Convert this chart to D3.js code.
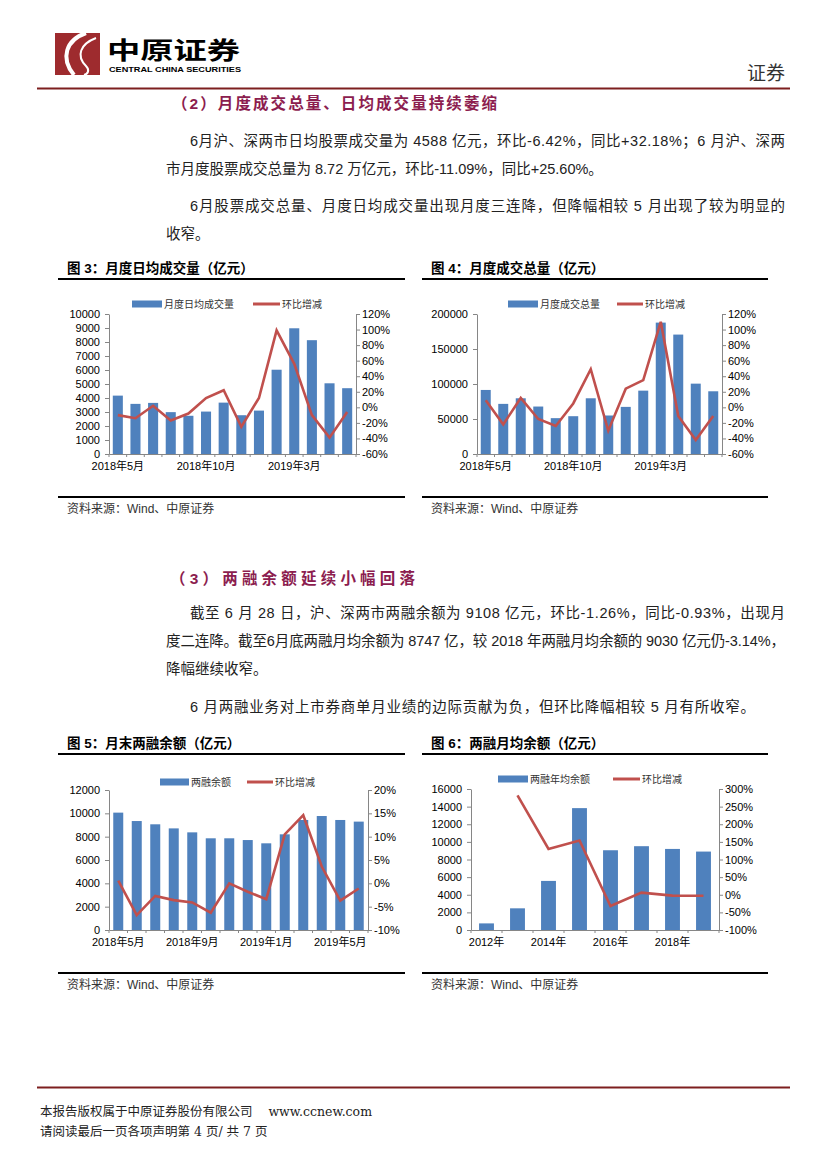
<!DOCTYPE html>
<html><head><meta charset="utf-8">
<script src="https://cdn.jsdelivr.net/npm/d3@7"></script>
<style>
body{margin:0;background:#fff}
svg text{font-family:"Liberation Sans","Noto Sans CJK SC",sans-serif}
</style></head><body>
<svg id="page" width="827" height="1169"></svg>
<script>
// data
var months = ['2018年5月','2018年6月','2018年7月','2018年8月','2018年9月','2018年10月','2018年11月',
  '2018年12月','2019年1月','2019年2月','2019年3月','2019年4月','2019年5月','2019年6月'];
var dailyAvgVol = [4170,3580,3650,2990,2730,3030,3670,2770,3100,6020,8980,8130,5050,4700];
var dailyAvgMoM = [-10,-14,2,-17,-8,12,22,-25,12,99,56,-10,-39,-6];
var monthTotalVol = [91500,71600,79600,67800,51200,54000,79600,55000,67300,90500,187700,170600,100500,89600];
var monthTotalMoM = [9,-22,12,-15,-24,5,49,-30,24,35,110,-11,-42,-11];
var marginBal = [10060,9340,9060,8710,8370,7860,7860,7710,7430,8200,9430,9770,9430,9290];
var marginMoM = [0.6,-6.8,-2.7,-3.6,-4.1,-6.3,0,-1.8,-3.4,10.5,14.6,3.6,-3.7,-1.1];
var years = ['2012年','2013年','2014年','2015年','2016年','2017年','2018年','2019年'];
var marginYearAvg = [750,2460,5570,13830,9050,9510,9200,8900];
var marginYearMoM = [null,282,130,154,-32,6,-2.4,-3];

var BLUE = '#4f81bd', RED = '#c0504d', AXIS = '#868686';
var svg = d3.select('#page');

// ---- page header ----
svg.append('rect').attr('x',55).attr('y',33).attr('width',45).attr('height',42).attr('fill','#9e2b2e');
svg.append('path').attr('d','M86 33 C66 40 60 58 74 75').attr('fill','none').attr('stroke','#fff').attr('stroke-width',4);
svg.append('path').attr('d','M96 38 C80 44 76 56 86 66 C90 70 88 74 84 75').attr('fill','none').attr('stroke','#fff').attr('stroke-width',2);
svg.append('text').attr('x',107).attr('y',59).attr('font-size',24).attr('font-weight',700)
  .attr('textLength',133).attr('lengthAdjust','spacingAndGlyphs').text('中原证券');
svg.append('text').attr('x',109).attr('y',71.5).attr('font-size',8).attr('font-weight','bold')
  .attr('textLength',132).attr('lengthAdjust','spacingAndGlyphs').text('CENTRAL CHINA SECURITIES');
svg.append('text').attr('x',785).attr('y',80).attr('text-anchor','end').attr('font-size',19).attr('fill','#333').text('证券');
svg.append('line').attr('x1',37).attr('x2',790).attr('y1',88.5).attr('y2',88.5).attr('stroke','#7d1f1f').attr('stroke-width',2);

// ---- body text ----
function para(x, y, str, right) {
  var t = svg.append('text').attr('x',x).attr('y',y).attr('font-size',14.5).attr('fill','#222').text(str);
  if (right) t.attr('textLength', right - x).attr('lengthAdjust','spacing');
}
function heading(x, y, str, w) {
  svg.append('text').attr('x',x).attr('y',y).attr('font-size',15.5).attr('font-weight','bold')
    .attr('fill','#8c1d4f').attr('textLength',w).attr('lengthAdjust','spacing').text(str);
}
heading(172, 109, '（2）月度成交总量、日均成交量持续萎缩', 325);
para(190, 146, '6月沪、深两市日均股票成交量为 4588 亿元，环比-6.42%，同比+32.18%；6 月沪、深两', 785);
para(166, 174, '市月度股票成交总量为 8.72 万亿元，环比-11.09%，同比+25.60%。');
para(190, 211, '6月股票成交总量、月度日均成交量出现月度三连降，但降幅相较 5 月出现了较为明显的', 785);
para(166, 239, '收窄。');

heading(170, 584, '（3）两融余额延续小幅回落', 245);
para(190, 618, '截至 6 月 28 日，沪、深两市两融余额为 9108 亿元，环比-1.26%，同比-0.93%，出现月', 785);
para(166, 646, '度二连降。截至6月底两融月均余额为 8747 亿，较 2018 年两融月均余额的 9030 亿元仍-3.14%，', 785);
para(166, 674, '降幅继续收窄。');
para(190, 712, '6 月两融业务对上市券商单月业绩的边际贡献为负，但环比降幅相较 5 月有所收窄。', 755);

// ---- combo chart ----
function drawChart(c) {
  var g = svg.append('g');
  g.append('text').attr('x',c.tx).attr('y',c.ty).attr('font-size',13.5).attr('font-weight','bold').text(c.title);
  g.append('line').attr('x1',c.rx0).attr('x2',c.rx1).attr('y1',c.ty+6).attr('y2',c.ty+6).attr('stroke','#000').attr('stroke-width',2);

  var n = c.cats.length;
  var x = d3.scaleBand().domain(d3.range(n)).range([c.px0,c.px1]).paddingInner(c.pad).paddingOuter(c.pad/2);
  var yL = d3.scaleLinear().domain([0,c.lMax]).range([c.py1,c.py0]);
  var yR = d3.scaleLinear().domain([c.rMin,c.rMax]).range([c.py1,c.py0]);

  g.selectAll('rect.bar').data(c.bars).enter().append('rect').attr('class','bar')
    .attr('x',function(d,i){return x(i);}).attr('width',x.bandwidth())
    .attr('y',function(d){return yL(d);}).attr('height',function(d){return c.py1-yL(d);})
    .attr('fill',BLUE);

  var line = d3.line().defined(function(d){return d!=null;})
    .x(function(d,i){return x(i)+x.bandwidth()/2;}).y(function(d){return yR(d);});
  g.append('path').datum(c.line).attr('d',line).attr('fill','none').attr('stroke',RED).attr('stroke-width',2.6);

  var axL = g.append('g').attr('transform','translate('+c.px0+',0)')
    .call(d3.axisLeft(yL).tickValues(d3.range(0,c.lMax+1,c.lStep)).tickSize(4).tickPadding(5).tickSizeOuter(0)
      .tickFormat(d3.format('d')));
  var axR = g.append('g').attr('transform','translate('+c.px1+',0)')
    .call(d3.axisRight(yR).tickValues(d3.range(c.rMin,c.rMax+1,c.rStep)).tickSize(4).tickPadding(2).tickSizeOuter(0)
      .tickFormat(function(d){return d+'%';}));
  var axB = g.append('g').attr('transform','translate(0,'+c.py1+')')
    .call(d3.axisBottom(x).tickValues(d3.range(0,n,c.every)).tickSize(0).tickPadding(8).tickSizeOuter(0)
      .tickFormat(function(i){return c.cats[i];}));
  [axL,axR,axB].forEach(function(a){
    a.selectAll('path,line').attr('stroke',AXIS);
    a.selectAll('text').attr('font-size',11).attr('fill','#000').style('font-family','"Liberation Sans","Noto Sans CJK SC",sans-serif');
  });
  // small ticks between categories on the bottom axis
  g.selectAll('line.ct').data(d3.range(n+1)).enter().append('line').attr('class','ct')
    .attr('x1',function(i){return c.px0+i*x.step();}).attr('x2',function(i){return c.px0+i*x.step();})
    .attr('y1',c.py1).attr('y2',c.py1+3).attr('stroke',AXIS);

  // legend
  g.append('rect').attr('x',c.legBar[0]).attr('y',c.legY-3.5).attr('width',c.legBar[1]-c.legBar[0]).attr('height',7).attr('fill',BLUE);
  g.append('text').attr('x',c.legBar[1]+2).attr('y',c.legY+3.5).attr('font-size',10).attr('fill','#333').text(c.legBar[2]);
  g.append('line').attr('x1',c.legLine[0]).attr('x2',c.legLine[1]).attr('y1',c.legY).attr('y2',c.legY).attr('stroke',RED).attr('stroke-width',3);
  g.append('text').attr('x',c.legLine[1]+2).attr('y',c.legY+3.5).attr('font-size',10).attr('fill','#333').text('环比增减');

  // source
  g.append('line').attr('x1',c.rx0).attr('x2',c.rx1).attr('y1',c.srcY).attr('y2',c.srcY).attr('stroke','#000').attr('stroke-width',2);
  g.append('text').attr('x',c.tx).attr('y',c.srcY+16).attr('font-size',12).attr('fill','#333').text('资料来源：Wind、中原证券');
}

drawChart({title:'图 3：月度日均成交量（亿元）', tx:67, ty:273, rx0:58, rx1:405,
  px0:109, px1:356, py0:314, py1:454, cats:months, bars:dailyAvgVol, line:dailyAvgMoM,
  lMax:10000, lStep:1000, rMin:-60, rMax:120, rStep:20, every:5, pad:0.43,
  legY:304, legBar:[132,162,'月度日均成交量'], legLine:[253,280], srcY:497});
drawChart({title:'图 4：月度成交总量（亿元）', tx:431, ty:273, rx0:422, rx1:768,
  px0:477, px1:722, py0:314, py1:454, cats:months, bars:monthTotalVol, line:monthTotalMoM,
  lMax:200000, lStep:50000, rMin:-60, rMax:120, rStep:20, every:5, pad:0.43,
  legY:304, legBar:[508,538,'月度成交总量'], legLine:[617,643], srcY:497});
drawChart({title:'图 5：月末两融余额（亿元）', tx:67, ty:748, rx0:58, rx1:405,
  px0:109, px1:368, py0:790, py1:930, cats:months, bars:marginBal, line:marginMoM,
  lMax:12000, lStep:2000, rMin:-10, rMax:20, rStep:5, every:4, pad:0.46,
  legY:782, legBar:[160,189,'两融余额'], legLine:[247,273], srcY:973});
drawChart({title:'图 6：两融月均余额（亿元）', tx:431, ty:748, rx0:422, rx1:768,
  px0:471, px1:719, py0:789, py1:930, cats:years, bars:marginYearAvg, line:marginYearMoM,
  lMax:16000, lStep:2000, rMin:-100, rMax:300, rStep:50, every:2, pad:0.52,
  legY:779, legBar:[498,528,'两融年均余额'], legLine:[613,640], srcY:973});

// ---- footer ----
svg.append('line').attr('x1',37).attr('x2',790).attr('y1',1087.5).attr('y2',1087.5).attr('stroke','#7d1f1f').attr('stroke-width',2);
svg.append('text').attr('x',40).attr('y',1116).attr('font-size',12.5).attr('fill','#222').style('white-space','pre')
  .style('font-family','"DejaVu Serif","Noto Sans CJK SC",serif').text('本报告版权属于中原证券股份有限公司    www.ccnew.com');
svg.append('text').attr('x',40).attr('y',1136).attr('font-size',12.5).attr('fill','#222').style('white-space','pre')
  .style('font-family','"DejaVu Serif","Noto Sans CJK SC",serif').text('请阅读最后一页各项声明第 4 页/ 共 7 页');
</script></body></html>
